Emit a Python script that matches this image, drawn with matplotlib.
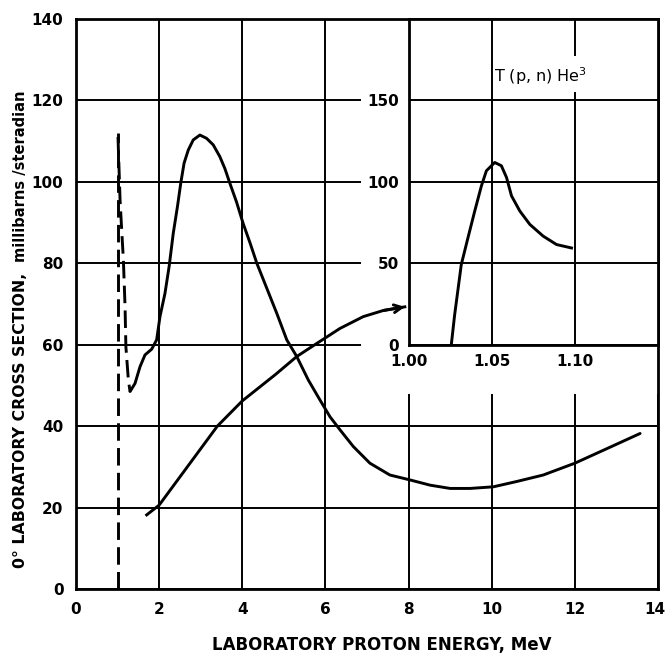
import matplotlib
matplotlib.use("Agg")
import matplotlib.pyplot as plt
from matplotlib.patches import Rectangle
from matplotlib.transforms import offset_copy

# ---- data -------------------------------------------------------------
# main curve: 0 deg laboratory cross section vs laboratory proton energy
curve_x = [1.30, 1.42, 1.54, 1.66, 1.82, 1.94, 2.02, 2.14, 2.24, 2.34, 2.44,
           2.52, 2.60, 2.70, 2.82, 2.98, 3.14, 3.30, 3.46, 3.58, 3.70, 3.86,
           4.02, 4.19, 4.35, 4.51, 4.67, 4.83, 5.07, 5.31, 5.59, 5.87, 6.11,
           6.35, 6.67, 7.07, 7.55, 8.03, 8.52, 9.00, 9.48, 10.04, 10.60,
           11.24, 12.00, 12.69, 13.57]
curve_y = [48.5, 50.5, 54.6, 57.5, 58.9, 61.2, 66.9, 72.6, 79.2, 87.4, 93.9,
           99.7, 104.6, 107.8, 110.3, 111.5, 110.7, 109.1, 106.2, 103.3, 99.7,
           95.1, 89.8, 84.9, 80.0, 75.9, 71.8, 67.7, 61.2, 57.1, 51.3, 46.4,
           42.3, 39.1, 35.0, 30.9, 28.0, 26.8, 25.5, 24.7, 24.7, 25.1, 26.4,
           28.0, 30.9, 34.1, 38.2]

# dashed low-energy branch near threshold
branch_x = [1.01, 1.06, 1.10, 1.14, 1.18, 1.20, 1.26, 1.30]
branch_y = [111.0, 95.5, 88.0, 80.8, 69.3, 59.5, 51.3, 48.5]

# threshold marker
threshold_x = 1.02
threshold_top = 112.0

# arrow leading to the expanded threshold region
arrow_x = [1.70, 2.00, 2.70, 3.40, 4.00, 4.80, 5.31, 5.79, 6.35, 6.91,
           7.39, 7.91]
arrow_y = [18.2, 20.6, 30.3, 40.0, 46.2, 52.7, 57.1, 60.3, 64.0, 66.9,
           68.4, 69.3]

# expanded threshold region T(p,n)He3
inset_x = [1.0257, 1.0277, 1.0317, 1.0357, 1.0398, 1.0438, 1.0468, 1.0518,
           1.0558, 1.0589, 1.0619, 1.0669, 1.0729, 1.0809, 1.0890, 1.0980]
inset_y = [0.0, 18.3, 49.2, 65.6, 82.1, 97.5, 106.8, 111.9, 109.9, 102.7,
           91.4, 82.1, 73.9, 66.7, 61.5, 59.4]

main_xticks = [0, 2, 4, 6, 8, 10, 12, 14]
main_yticks = [0, 20, 40, 60, 80, 100, 120, 140]
inset_xticks = [1.00, 1.05, 1.10]
inset_xticklabels = ["1.00", "1.05", "1.10"]
inset_yticks = [0, 50, 100, 150]

# ---- styling ----------------------------------------------------------
plt.rcParams["font.family"] = ["DejaVu Sans"]
plt.rcParams["mathtext.default"] = "regular"

W_PX, H_PX = 666, 654
fig = plt.figure(figsize=(W_PX / 100, H_PX / 100), dpi=100)
fig.patch.set_facecolor("white")

left, right, top, bottom = 76, 658, 19, 589
ax = fig.add_axes([left / W_PX, 1 - bottom / H_PX,
                   (right - left) / W_PX, (bottom - top) / H_PX])

xmin, xmax, ymin, ymax = 0, 14, 0, 140
ax.set_xlim(xmin, xmax)
ax.set_ylim(ymin, ymax)
ax.set_xticks(main_xticks)
ax.set_yticks(main_yticks)
ax.tick_params(length=0, labelsize=11, pad=9)
for lab in ax.get_xticklabels() + ax.get_yticklabels():
    lab.set_fontweight("bold")
# keep the last energy label inside the canvas
last = ax.get_xticklabels()[-1]
last.set_transform(offset_copy(last.get_transform(), fig=fig, x=-3,
                               units="dots"))
ax.grid(True, color="black", lw=1.4)
ax.set_axisbelow(True)
for s in ax.spines.values():
    s.set_linewidth(2.0)

# blank area behind the inset and its labels
ax.add_patch(Rectangle((6.85, 48.0), xmax - 6.85, ymax - 48.0,
                       facecolor="white", edgecolor="none", zorder=1))

lw_curve = 2.1
ax.plot(curve_x, curve_y, color="black", lw=lw_curve, zorder=3,
        solid_capstyle="round", solid_joinstyle="round")
ax.plot(branch_x, branch_y, color="black", lw=lw_curve, zorder=3,
        dashes=(6, 2.5))
ax.plot([threshold_x, threshold_x], [0, threshold_top], color="black",
        lw=lw_curve, zorder=3, dashes=(6, 2.5))
ax.plot(arrow_x, arrow_y, color="black", lw=lw_curve, zorder=3,
        solid_joinstyle="round")
ax.annotate("", xy=(arrow_x[-1], arrow_y[-1]),
            xytext=(arrow_x[-2], arrow_y[-2]),
            arrowprops=dict(arrowstyle="->", lw=lw_curve, color="black",
                            mutation_scale=14, shrinkA=0, shrinkB=0),
            zorder=4)

# axis titles
fig.text(382 / W_PX, 1 - 645 / H_PX, "LABORATORY PROTON ENERGY, MeV",
         ha="center", va="center", fontsize=12, fontweight="bold")
fig.text(21 / W_PX, 1 - 568 / H_PX, "0° LABORATORY CROSS SECTION,",
         ha="center", va="bottom", rotation=90, fontsize=11.3,
         fontweight="bold")
fig.text(21 / W_PX, 1 - 262 / H_PX, "millibarns /steradian",
         ha="center", va="bottom", rotation=90, fontsize=10.5,
         fontweight="bold")

# ---- inset ------------------------------------------------------------
pos = ax.get_position()
ix0, ix1, iy0, iy1 = 8, 14, 60, 140
inset = fig.add_axes([pos.x0 + pos.width * (ix0 - xmin) / (xmax - xmin),
                      pos.y0 + pos.height * (iy0 - ymin) / (ymax - ymin),
                      pos.width * (ix1 - ix0) / (xmax - xmin),
                      pos.height * (iy1 - iy0) / (ymax - ymin)])
inset.set_xlim(1.00, 1.15)
inset.set_ylim(0, 200)
inset.set_xticks(inset_xticks)
inset.set_xticklabels(inset_xticklabels)
inset.set_yticks(inset_yticks)
inset.tick_params(length=0, labelsize=11, pad=7)
for lab in inset.get_xticklabels() + inset.get_yticklabels():
    lab.set_fontweight("bold")
inset.grid(True, color="black", lw=1.4)
inset.set_axisbelow(True)
for s in inset.spines.values():
    s.set_linewidth(2.0)

inset.add_patch(Rectangle((1.094, 155), 0.012, 22, facecolor="white",
                          edgecolor="none", zorder=1))
inset.plot(inset_x, inset_y, color="black", lw=lw_curve, zorder=3,
           solid_joinstyle="round")
inset.text(1.0512, 165, "T (p, n) He$^3$", ha="left", va="center",
           fontsize=11.5, zorder=4)

fig.savefig("out.png", dpi=100, facecolor="white")
